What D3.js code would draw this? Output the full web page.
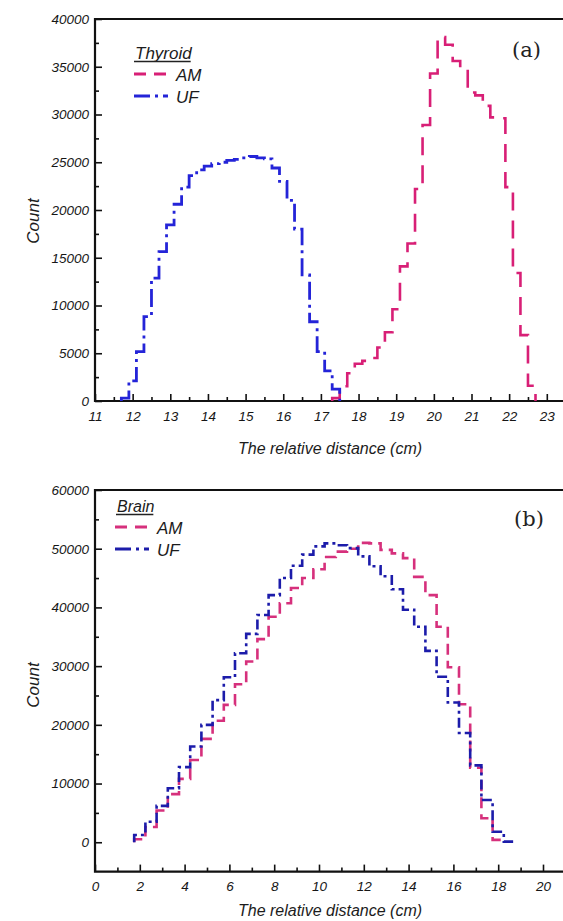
<!DOCTYPE html>
<html>
<head>
<meta charset="utf-8">
<script src="https://cdn.jsdelivr.net/npm/d3@7.9.0/dist/d3.min.js"></script>
<style>
  html, body { margin: 0; padding: 0; background: #fff; }
  svg { display: block; }
  .tick text { font-family: "Liberation Sans", Arial, sans-serif; font-style: italic; font-size: 13.5px; fill: #161616; }
  .title { font-family: "Liberation Sans", Arial, sans-serif; font-style: italic; fill: #1c1c1c; }
</style>
</head>
<body>
<svg id="chart" width="563" height="921"></svg>
<script>
// Thyroid panel (a): bin edges (cm) and counts
const thyroidUFEdges = [11.7, 11.9, 12.1, 12.3, 12.5, 12.7, 12.9, 13.1, 13.3, 13.5, 13.7, 13.9, 14.1, 14.3, 14.5,
  14.7, 14.9, 15.1, 15.3, 15.5, 15.7, 15.9, 16.1, 16.3, 16.5, 16.7, 16.9, 17.1, 17.3, 17.5];
const thyroidUF = [300, 2100, 5170, 8840, 12860, 15650, 18440, 20600, 22400, 23600, 24200, 24600, 24850, 25000,
  25200, 25300, 25450, 25600, 25450, 25350, 24400, 23000, 21000, 18000, 13200, 8300, 5170, 3150, 1250];

const thyroidAMEdges = [17.3, 17.5, 17.7, 17.9, 18.1, 18.3, 18.5, 18.7, 18.9, 19.1, 19.3, 19.5, 19.7, 19.9, 20.1,
  20.3, 20.5, 20.7, 20.9, 21.1, 21.3, 21.5, 21.7, 21.9, 22.1, 22.3, 22.5, 22.7];
const thyroidAM = [300, 1550, 2900, 3900, 4200, 4500, 5600, 7200, 9600, 14100, 16500, 22200, 28900, 34300, 38100,
  37300, 35600, 34800, 32300, 32000, 30900, 29700, 29600, 22400, 13400, 6900, 1600];

// Brain panel (b)
const brainEdges = [1.75, 2.25, 2.75, 3.25, 3.75, 4.25, 4.75, 5.25, 5.75, 6.25, 6.75, 7.25, 7.75, 8.25, 8.75,
  9.25, 9.75, 10.25, 10.75, 11.25, 11.75, 12.25, 12.75, 13.25, 13.75, 14.25, 14.75, 15.25, 15.75, 16.25,
  16.75, 17.25, 17.75, 18.25, 18.75];
const brainAM = [500, 2600, 5400, 8200, 10800, 14000, 17600, 20700, 23400, 26900, 30800, 34600, 38400, 40700,
  43300, 45000, 46500, 48600, 49500, 50000, 51000, 50900, 49800, 49200, 48400, 45200, 42100, 36700, 29800,
  23500, 12700, 4100, 400];
const brainUF = [1240, 3500, 6200, 9200, 12800, 16300, 20000, 24200, 28100, 32200, 35500, 38700, 42100, 45000,
  47100, 49000, 50400, 50900, 50600, 50100, 48700, 47000, 45300, 43100, 39600, 36700, 32600, 28200, 23800,
  18600, 13100, 7200, 1800, 100];

const xTitle = 'The relative distance (cm)';
const yTitle = 'Count';

const svg = d3.select('#chart');
const W = 563;

// turn bin edges + counts into step points
function stepPoints(edges, values) {
  let pts = [[edges[0], 0]];
  values.forEach((v, i) => pts.push([edges[i], v]));
  pts.push([edges[values.length], 0]);
  return pts;
}

function drawPanel(p) {
  let g = svg.append('g');

  // minor ticks first, no labels
  g.append('g')
    .attr('transform', `translate(0,${p.y.range()[0]})`)
    .call(d3.axisBottom(p.x).tickValues(p.xMinor).tickSize(-4).tickFormat(''))
    .call(s => s.select('.domain').remove());
  g.append('g')
    .attr('transform', `translate(${p.x.range()[0]},0)`)
    .call(d3.axisLeft(p.y).tickValues(p.yMinor).tickSize(-4).tickFormat(''))
    .call(s => s.select('.domain').remove());

  // major ticks with labels
  let xa = g.append('g')
    .attr('transform', `translate(0,${p.y.range()[0]})`)
    .call(d3.axisBottom(p.x).tickValues(p.xMajor).tickSize(-7).tickSizeOuter(0).tickPadding(10).tickFormat(d3.format('d')));
  let ya = g.append('g')
    .attr('transform', `translate(${p.x.range()[0]},0)`)
    .call(d3.axisLeft(p.y).tickValues(p.yMajor).tickSize(-7).tickSizeOuter(0).tickPadding(6).tickFormat(d3.format('d')));
  g.selectAll('.tick line').attr('stroke', '#111').attr('stroke-width', 1.6);
  xa.select('.domain').remove();
  ya.select('.domain').remove();

  // frame: left, bottom, top (runs off the right edge)
  let x0 = p.x.range()[0], yb = p.y.range()[0], yt = p.y.range()[1];
  g.append('path')
    .attr('d', `M${W},${yt}H${x0}V${yb}H${W}`)
    .attr('fill', 'none').attr('stroke', '#111').attr('stroke-width', 2.2);

  // step curves
  let line = d3.line().curve(d3.curveStepAfter).x(d => p.x(d[0])).y(d => p.y(d[1]));
  p.series.forEach(s => {
    g.append('path')
      .attr('d', line(stepPoints(s.edges, s.values)))
      .attr('fill', 'none')
      .attr('stroke', s.color)
      .attr('stroke-width', s.width)
      .attr('stroke-dasharray', s.dash);
  });

  // axis titles
  g.append('text').attr('class', 'title')
    .attr('x', 330).attr('y', p.xTitleY)
    .attr('text-anchor', 'middle').attr('font-size', 16)
    .text(xTitle);
  g.append('text').attr('class', 'title')
    .attr('transform', `translate(39,${p.yTitleY}) rotate(-90)`)
    .attr('text-anchor', 'middle').attr('font-size', 17)
    .text(yTitle);

  // legend
  let head = g.append('text').attr('class', 'title')
    .attr('x', p.legend.x).attr('y', p.legend.y)
    .attr('font-size', p.legend.size)
    .text(p.legend.head);
  let hw = head.node().getComputedTextLength();
  g.append('line')
    .attr('x1', p.legend.x - 1).attr('x2', p.legend.x + hw - 1)
    .attr('y1', p.legend.y + 2.5).attr('y2', p.legend.y + 2.5)
    .attr('stroke', '#222').attr('stroke-width', 1.3);
  p.series.forEach((s, i) => {
    let ly = p.legend.y + 15 + i * 22;
    g.append('line')
      .attr('x1', p.legend.sx).attr('x2', p.legend.sx + 34)
      .attr('y1', ly).attr('y2', ly)
      .attr('stroke', s.color).attr('stroke-width', 3)
      .attr('stroke-dasharray', s.legendDash);
    g.append('text').attr('class', 'title')
      .attr('x', p.legend.sx + 42).attr('y', ly + 6.5)
      .attr('font-size', 17)
      .text(s.name);
  });

  // panel tag
  g.append('text')
    .attr('x', p.tag.x).attr('y', p.tag.y)
    .attr('font-family', '"DejaVu Serif", serif').attr('font-size', 21)
    .attr('fill', '#222')
    .text(p.tag.text);
}

// panel (a)
let xA = d3.scaleLinear().domain([11, 23.5]).range([95, 95 + 12.5 * 37.65]);
let yA = d3.scaleLinear().domain([0, 40000]).range([401, 19]);
drawPanel({
  x: xA, y: yA,
  xMajor: d3.range(11, 24, 1), xMinor: d3.range(11.5, 23.6, 1),
  yMajor: d3.range(0, 40001, 5000), yMinor: d3.range(2500, 40000, 5000),
  xTitleY: 454, yTitleY: 221,
  legend: { head: 'Thyroid', x: 135, y: 59, size: 17, sx: 134 },
  tag: { text: '(a)', x: 512, y: 57 },
  series: [
    { name: 'AM', edges: thyroidAMEdges, values: thyroidAM, color: '#d81f76', width: 2.6, dash: '18,10', legendDash: '12,8' },
    { name: 'UF', edges: thyroidUFEdges, values: thyroidUF, color: '#2424d8', width: 2.8, dash: '18,5,3,5', legendDash: '16,5,3,5' }
  ]
});

// panel (b)
let xB = d3.scaleLinear().domain([0, 21]).range([95, 95 + 21 * 22.4]);
let yB = d3.scaleLinear().domain([-5000, 60000]).range([871.6, 490]);
drawPanel({
  x: xB, y: yB,
  xMajor: d3.range(0, 21, 2), xMinor: d3.range(1, 22, 2),
  yMajor: d3.range(0, 60001, 10000), yMinor: d3.range(5000, 60000, 10000),
  xTitleY: 916, yTitleY: 685,
  legend: { head: 'Brain', x: 117, y: 512, size: 16, sx: 115 },
  tag: { text: '(b)', x: 514, y: 526 },
  series: [
    { name: 'AM', edges: brainEdges, values: brainAM, color: '#d6307c', width: 2.6, dash: '11,6', legendDash: '12,8' },
    { name: 'UF', edges: brainEdges, values: brainUF, color: '#1c1caa', width: 2.6, dash: '10,4,3,4', legendDash: '16,5,3,5' }
  ]
});
</script>
</body>
</html>
